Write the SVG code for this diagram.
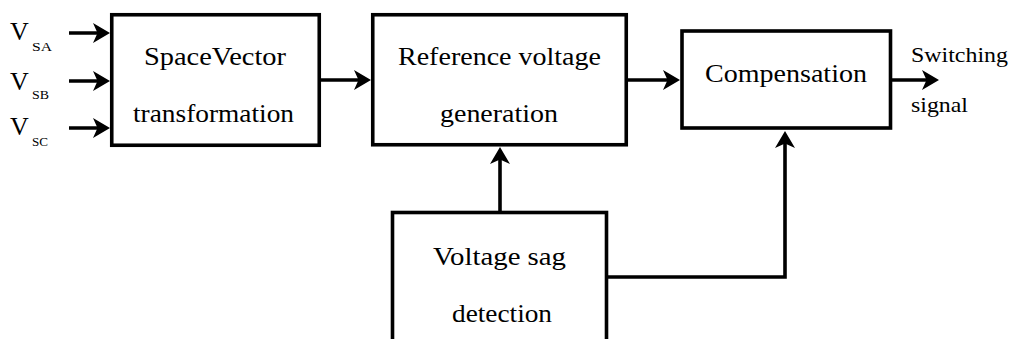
<svg xmlns="http://www.w3.org/2000/svg" width="1013" height="339" viewBox="0 0 1013 339">
  <style>
    .box { fill: none; stroke: #000; stroke-width: 3.6; }
    .wire { fill: none; stroke: #000; stroke-width: 3.6; stroke-linejoin: miter; marker-end: url(#head); }
    .lbl { font-size: 26px; }
    .sub { font-size: 13px; }
    .out { font-size: 22px; }
  </style>
  <defs>
    <marker id="head" markerUnits="userSpaceOnUse" viewBox="0 0 17 21" markerWidth="17" markerHeight="21" refX="11" refY="10.5" orient="auto">
      <path d="M17,10.5 L0,0.5 L4.5,10.5 L0,20.5 Z" fill="#000"/>
    </marker>
  </defs>
  <rect width="1013" height="339" fill="#fff"/>

  <g font-family="Liberation Serif" fill="#000">
    <!-- input labels -->
    <g id="inputs">
      <text class="lbl" x="10" y="40">V</text>
      <text class="sub" x="32" y="51" textLength="20" lengthAdjust="spacingAndGlyphs">SA</text>
      <text class="lbl" x="10" y="90">V</text>
      <text class="sub" x="32" y="99" textLength="17" lengthAdjust="spacingAndGlyphs">SB</text>
      <text class="lbl" x="10" y="135">V</text>
      <text class="sub" x="32" y="146" textLength="16" lengthAdjust="spacingAndGlyphs">SC</text>
    </g>

    <g id="space-vector">
      <rect class="box" x="111.75" y="14.75" width="207.5" height="130.5"/>
      <text class="lbl" x="144" y="65" textLength="142" lengthAdjust="spacingAndGlyphs">SpaceVector</text>
      <text class="lbl" x="133" y="122" textLength="161" lengthAdjust="spacingAndGlyphs">transformation</text>
    </g>

    <g id="reference-voltage">
      <rect class="box" x="372.75" y="14.75" width="253.5" height="130"/>
      <text class="lbl" x="398" y="65" textLength="203" lengthAdjust="spacingAndGlyphs">Reference voltage</text>
      <text class="lbl" x="440" y="122" textLength="118" lengthAdjust="spacingAndGlyphs">generation</text>
    </g>

    <g id="compensation">
      <rect class="box" x="682" y="31" width="208.5" height="97"/>
      <text class="lbl" x="705" y="82" textLength="162" lengthAdjust="spacingAndGlyphs">Compensation</text>
    </g>

    <g id="sag-detection">
      <rect class="box" x="392.5" y="212.5" width="214" height="150"/>
      <text class="lbl" x="433" y="265" textLength="133" lengthAdjust="spacingAndGlyphs">Voltage sag</text>
      <text class="lbl" x="452" y="322" textLength="100" lengthAdjust="spacingAndGlyphs">detection</text>
    </g>

    <g id="output-label">
      <text class="out" x="911" y="62" textLength="97" lengthAdjust="spacingAndGlyphs">Switching</text>
      <text class="out" x="911" y="112" textLength="57" lengthAdjust="spacingAndGlyphs">signal</text>
    </g>
  </g>

  <g id="connectors">
    <line class="wire" x1="69" y1="33" x2="104" y2="33"/>
    <line class="wire" x1="69" y1="81" x2="104" y2="81"/>
    <line class="wire" x1="69" y1="128" x2="104" y2="128"/>
    <line class="wire" x1="321" y1="80" x2="365" y2="80"/>
    <line class="wire" x1="628" y1="80" x2="674" y2="80"/>
    <line class="wire" x1="892" y1="80" x2="933" y2="80"/>
    <line class="wire" x1="500" y1="211" x2="500" y2="153"/>
    <polyline class="wire" points="608,277 785,277 785,137"/>
  </g>
</svg>
